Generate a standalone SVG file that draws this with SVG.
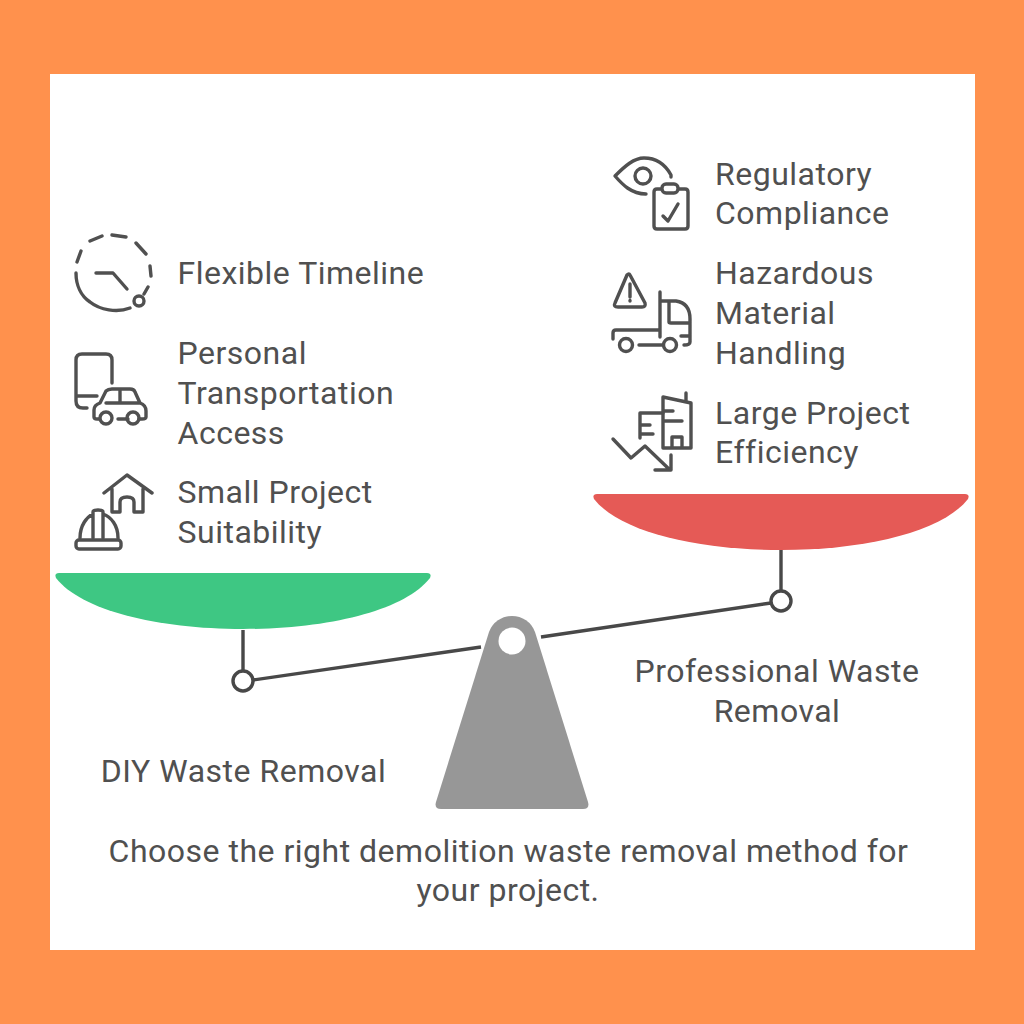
<svg xmlns="http://www.w3.org/2000/svg" width="1024" height="1024" viewBox="0 0 1024 1024">
<style>
text{font-family:Roboto,"Liberation Sans",sans-serif;font-size:32px;letter-spacing:.5px;fill:#505050}
.m{text-anchor:middle}
.i{fill:none;stroke:#505050;stroke-width:3.4;stroke-linecap:round;stroke-linejoin:round}
.l{fill:none;stroke:#484848;stroke-width:3.4}
</style>
<rect width="1024" height="1024" fill="#ff914d"/>
<rect x="50" y="74" width="925" height="876" fill="#fff"/>
<g id="connectors">
<path class="l" d="M243 630V671M781 550V591M253 680L481 647M541 637L771 603"/>
</g>
<g id="pan-left"><path d="M59 573H427Q432 573 430 578C405 610 330 629 243 629C156 629 81 610 56 578Q54 573 59 573Z" fill="#3ec783"/></g>
<g id="pan-right"><path d="M597 494H965Q970 494 968 499C943 531 868 550 781 550C694 550 619 531 594 499Q592 494 597 494Z" fill="#e55a56"/></g>
<g id="pivot-left"><circle cx="243" cy="681" r="10" fill="#fff" stroke="#484848" stroke-width="3.4"/></g>
<g id="pivot-right"><circle cx="781" cy="601" r="10" fill="#fff" stroke="#484848" stroke-width="3.4"/></g>
<g id="fulcrum"><path d="M489 632A24.500 24.500 0 0 1 535 632L588 802Q590 809 583 809H441Q434 809 436 802Z" fill="#979797"/><circle cx="512" cy="641" r="13.500" fill="#fff"/></g>
<g id="label-diy"><text class="m" x="243.500" y="782">DIY Waste Removal</text></g>
<g id="label-pro"><text class="m" x="777" y="682">Professional Waste</text><text class="m" x="777" y="722">Removal</text></g>
<g id="caption"><text class="m" x="508.500" y="862">Choose the right demolition waste removal method for</text><text class="m" x="508" y="901">your project.</text></g>
<g id="item-timeline">
<path class="i" d="M76 273C76 285 81 296 90 302C100 310 117 313 130 308M77 262L81 251M90 241L102 236M112 235L126 237M136 243L146 254M150 266L151 276M148 287L144 294"/>
<path class="i" d="M96 273H113L127 289"/><circle class="i" cx="139" cy="301" r="5"/>
<text x="177.500" y="284">Flexible Timeline</text></g>
<g id="item-transport">
<path class="i" d="M112 383V360Q112 354 106 354H82Q76 354 76 360V401Q76 408 83 408H87M76 396H97"/>
<path class="i" d="M94 417V410Q94 405 100 403L106 391Q108 389 112 389H130Q134 389 135 392L140 403Q146 405 146 411V417Q146 419 142 419H139M118 419H128M94 417Q94 419 97 419H99M106 403H140M120 390V403"/>
<circle class="i" cx="106" cy="418" r="6"/><circle class="i" cx="133" cy="418" r="6"/>
<text x="177.500" y="364">Personal</text><text x="177.500" y="404">Transportation</text><text x="177.500" y="444">Access</text></g>
<g id="item-small">
<path class="i" d="M104 493L127 475L152 493M112 489V512H120V502Q120 497 127 497Q134 497 134 502V512H143V489"/>
<path class="i" d="M80 538C80 525 87 517 93 514V512Q93 510 98 510Q103 510 103 512V514C111 517 118 525 118 538M93 514V538M103 514V538"/>
<rect class="i" x="76" y="540" width="45" height="9" rx="3"/>
<text x="177.500" y="503">Small Project</text><text x="177.500" y="543">Suitability</text></g>
<g id="item-regulatory">
<path class="i" d="M646 194C631 194 622 184 615 176C625 166 634 158 644 158C656 158 665 164 671 175V177"/>
<circle class="i" cx="643" cy="176" r="8"/>
<path class="i" d="M661 189H657Q654 189 654 192V226Q654 229 657 229H685Q688 229 688 226V192Q688 189 685 189H679"/>
<rect class="i" x="662" y="184" width="16" height="9" rx="4"/>
<path class="i" d="M663 216L668 221L678 204"/>
<text x="715" y="185">Regulatory</text><text x="715" y="224">Compliance</text></g>
<g id="item-hazard">
<path class="i" d="M630 275L645 303Q646 307 642 307H618Q613 307 615 303L627 275Q629 273 630 275ZM630 284V297M630 300.500V301"/>
<path class="i" d="M660 292V337M660 301H676Q690 303 690 319V342Q690 345 684 345M669 301V322Q669 323 671 323H690M681 336H690M613 339V333Q613 330 616 330H660M639 345H663"/>
<circle class="i" cx="626" cy="345" r="6.500"/><circle class="i" cx="670" cy="345" r="6.500"/>
<text x="715" y="284">Hazardous</text><text x="715" y="324">Material</text><text x="715" y="364">Handling</text></g>
<g id="item-efficiency">
<path class="i" d="M663 448V397L691 403V448ZM686 402V393M663 411H673M663 421H682M672 448V437H682V448"/>
<path class="i" d="M663 413H640V438M640 425H650M640 434H653"/>
<path class="i" d="M613 439L631 458L645 446L670 470M671 455V470H655"/>
<text x="715" y="424">Large Project</text><text x="715" y="463">Efficiency</text></g>
</svg>
